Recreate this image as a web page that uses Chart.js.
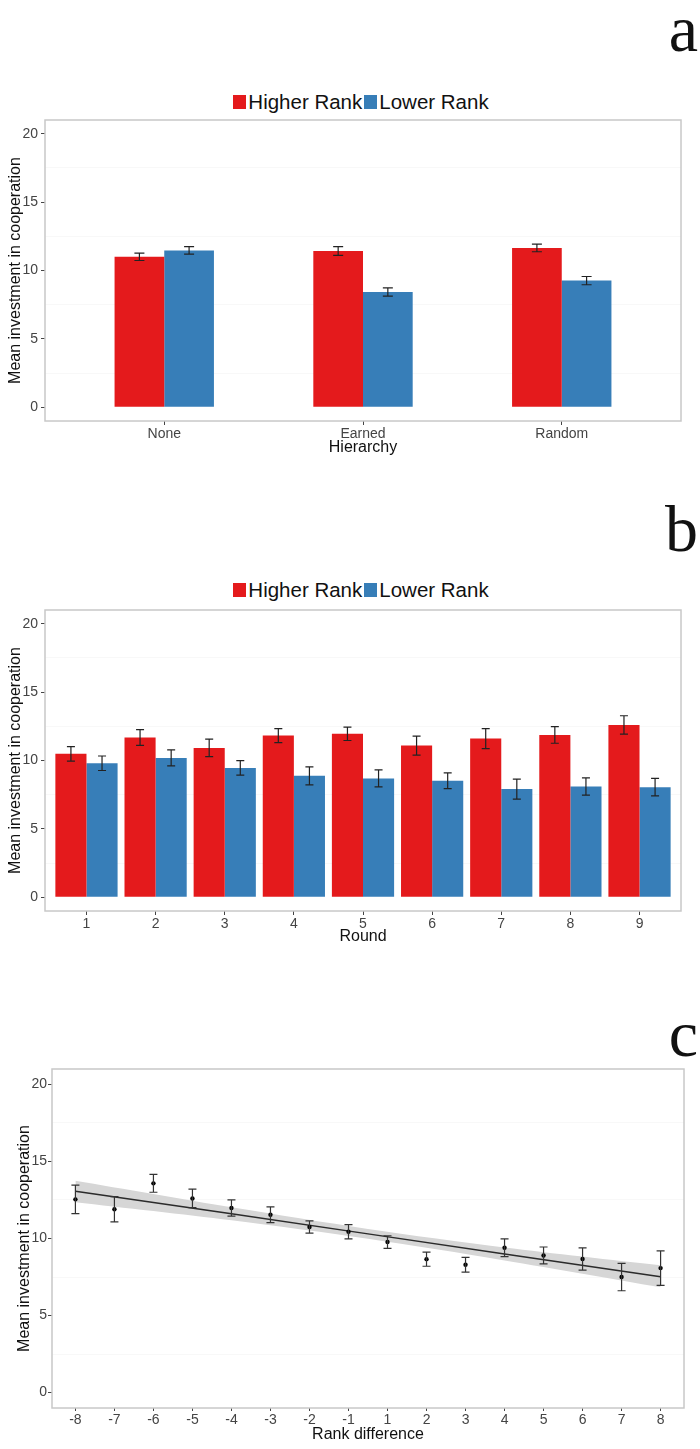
<!DOCTYPE html>
<html>
<head>
<meta charset="utf-8">
<script src="https://cdn.jsdelivr.net/npm/chart.js@4.4.1/dist/chart.umd.min.js"></script>
<style>
  body { margin: 0; background: #fff; width: 700px; height: 1449px; position: relative; overflow: hidden;
         font-family: "Liberation Sans", Arial, sans-serif; }
  .panel { position: absolute; left: 0; }
  .letter { position: absolute; right: 2px; font: 66px/66px "Liberation Serif", "Times New Roman", serif; color: #111; }
  .legend { position: absolute; left: 11px; width: 700px; text-align: center; font-size: 20.5px; line-height: 20px;
            color: #111; white-space: nowrap; }
  .legend .sw { display: inline-block; width: 13px; height: 14px; margin-right: 2px; }
  .legend .gap { display: inline-block; width: 2px; }
</style>
</head>
<body>
<div class="letter" style="top:-4px">a</div>
<div class="legend" style="top:92px"><span class="sw" style="background:#E41A1C"></span>Higher Rank<span class="gap"></span><span class="sw" style="background:#377EB8"></span>Lower Rank</div>
<canvas id="chartA" class="panel" style="top:115px" width="700" height="345"></canvas>

<div class="letter" style="top:496px">b</div>
<div class="legend" style="top:580px"><span class="sw" style="background:#E41A1C"></span>Higher Rank<span class="gap"></span><span class="sw" style="background:#377EB8"></span>Lower Rank</div>
<canvas id="chartB" class="panel" style="top:605px" width="700" height="345"></canvas>

<div class="letter" style="top:1001px">c</div>
<canvas id="chartC" class="panel" style="top:1063px" width="700" height="386"></canvas>

<script>
// panel a
const hierarchyLabels = ['None', 'Earned', 'Random'];
const hierHigher = [11.0, 11.42, 11.65];
const hierHigherErr = [0.27, 0.32, 0.28];
const hierLower = [11.47, 8.43, 9.26];
const hierLowerErr = [0.27, 0.3, 0.3];

// panel b
const roundLabels = ['1', '2', '3', '4', '5', '6', '7', '8', '9'];
const roundHigher = [10.49, 11.68, 10.92, 11.82, 11.95, 11.09, 11.6, 11.87, 12.6];
const roundHigherErr = [0.53, 0.57, 0.64, 0.51, 0.49, 0.69, 0.73, 0.61, 0.67];
const roundLower = [9.8, 10.19, 9.46, 8.88, 8.69, 8.52, 7.91, 8.1, 8.05];
const roundLowerErr = [0.53, 0.58, 0.53, 0.66, 0.62, 0.57, 0.73, 0.63, 0.64];

// panel c
const rankLabels = ['-8', '-7', '-6', '-5', '-4', '-3', '-2', '-1', '1', '2', '3', '4', '5', '6', '7', '8'];
const rankMean = [12.54, 11.9, 13.58, 12.6, 11.98, 11.54, 10.75, 10.44, 9.77, 8.66, 8.3, 9.4, 8.9, 8.67, 7.5, 8.08];
const rankErr = [0.92, 0.82, 0.58, 0.6, 0.53, 0.51, 0.4, 0.46, 0.41, 0.46, 0.48, 0.58, 0.55, 0.72, 0.89, 1.12];
const fitPos = [0, 4, 7.5, 11, 15];
const fitLine = [13.07, 11.6, 10.3, 9.0, 7.52];
const fitUpper = [13.74, 12.02, 10.62, 9.42, 8.26];
const fitLower = [12.35, 11.18, 9.98, 8.58, 6.84];

const yTicks = [0, 5, 10, 15, 20];
const yGrid = [0, 2.5, 5, 7.5, 10, 12.5, 15, 17.5, 20];
const yTitle = 'Mean investment in cooperation';

const red = '#E41A1C';
const blue = '#377EB8';
const tickCol = '#444';

const panelFrame = {
    id: 'panelFrame',
    afterDatasetsDraw: chart => {
        const a = chart.chartArea;
        const ctx = chart.ctx;
        ctx.save();
        ctx.strokeStyle = '#c8c8c8';
        ctx.lineWidth = 1.5;
        ctx.strokeRect(a.left, a.top, a.right - a.left, a.bottom - a.top);
        ctx.restore();
    }
};

const errorBars = {
    id: 'errorBars',
    afterDatasetsDraw: (chart, args, opts) => {
        const ctx = chart.ctx;
        const y = chart.scales.y;
        ctx.save();
        ctx.strokeStyle = opts.color;
        ctx.lineWidth = opts.width;
        chart.data.datasets.forEach((ds, i) => {
            if (!ds.errors) return;
            chart.getDatasetMeta(i).data.forEach((el, j) => {
                const v = ds.data[j].y;
                const top = y.getPixelForValue(v + ds.errors[j]);
                const bot = y.getPixelForValue(v - ds.errors[j]);
                const h = opts.cap / 2;
                ctx.beginPath();
                ctx.moveTo(el.x, top); ctx.lineTo(el.x, bot);
                ctx.moveTo(el.x - h, top); ctx.lineTo(el.x + h, top);
                ctx.moveTo(el.x - h, bot); ctx.lineTo(el.x + h, bot);
                ctx.stroke();
            });
        });
        ctx.restore();
    }
};

function yScale(width, titlePad, labelPad) {
    return {
        min: -1,
        max: 21,
        afterBuildTicks: s => { s.ticks = yGrid.map(v => ({ value: v })); },
        afterFit: s => { s.width = width; s.paddingTop = 0; s.paddingBottom = 0; },
        ticks: {
            autoSkip: false,
            padding: labelPad,
            color: tickCol,
            font: { size: 14 },
            callback: v => yTicks.includes(v) ? v : ''
        },
        grid: {
            color: c => c.tick && !yTicks.includes(c.tick.value) ? '#f8f8f8' : 'rgba(0,0,0,0)',
            tickColor: c => c.tick && yTicks.includes(c.tick.value) ? tickCol : 'rgba(0,0,0,0)',
            tickLength: 4
        },
        border: { display: false },
        title: { display: true, text: yTitle, color: '#111', font: { size: 16 }, padding: { top: titlePad, bottom: 0 } }
    };
}

function xScale(labels, height, title, tickLen, titlePad) {
    return {
        type: 'linear',
        min: -0.6,
        max: labels.length - 0.4,
        offset: false,
        afterBuildTicks: s => { s.ticks = labels.map((l, i) => ({ value: i })); },
        afterFit: s => { s.height = height; s.paddingLeft = 0; s.paddingRight = 0; },
        ticks: { autoSkip: false, maxRotation: 0, padding: 1, color: tickCol, font: { size: 14 }, callback: v => labels[v] },
        grid: { drawOnChartArea: false, offset: false, tickLength: tickLen, tickColor: tickCol },
        border: { display: false },
        title: { display: true, text: title, color: '#111', font: { size: 16 }, padding: { top: 0, bottom: titlePad } }
    };
}

function barChart(id, labels, higher, higherErr, lower, lowerErr, catPct, cap, title, titlePad) {
    const toPts = arr => arr.map((v, i) => ({ x: i, y: v }));
    return new Chart(document.getElementById(id), {
        type: 'bar',
        data: {
            datasets: [
                { label: 'Higher Rank', data: toPts(higher), errors: higherErr, backgroundColor: red },
                { label: 'Lower Rank', data: toPts(lower), errors: lowerErr, backgroundColor: blue }
            ]
        },
        options: {
            responsive: false,
            animation: false,
            devicePixelRatio: 1,
            categoryPercentage: catPct,
            barPercentage: 1,
            layout: { padding: { top: 5, right: 19, left: 0, bottom: 0 } },
            scales: {
                x: xScale(labels, 39, title, 4, titlePad),
                y: yScale(45, 6, 3)
            },
            plugins: {
                legend: { display: false },
                tooltip: { enabled: false },
                errorBars: { color: '#222', width: 1.2, cap: cap }
            }
        },
        plugins: [errorBars, panelFrame]
    });
}

barChart('chartA', hierarchyLabels, hierHigher, hierHigherErr, hierLower, hierLowerErr, 0.5, 10, 'Hierarchy', 3);
barChart('chartB', roundLabels, roundHigher, roundHigherErr, roundLower, roundLowerErr, 0.9, 8, 'Round', 4);

const fitPts = arr => arr.map((v, i) => ({ x: fitPos[i], y: v }));

new Chart(document.getElementById('chartC'), {
    type: 'line',
    data: {
        datasets: [
            { data: rankMean.map((v, i) => ({ x: i, y: v })), errors: rankErr, showLine: false,
              pointRadius: 2.2, pointBackgroundColor: '#000', pointBorderWidth: 0, order: 0 },
            { data: fitPts(fitLine), borderColor: '#2b2b2b', borderWidth: 1.5, pointRadius: 0, order: 1 },
            { data: fitPts(fitUpper), borderWidth: 0, pointRadius: 0, fill: '+1', backgroundColor: '#d6d6d6',
              tension: 0.3, order: 2 },
            { data: fitPts(fitLower), borderWidth: 0, pointRadius: 0, fill: false, tension: 0.3, order: 3 }
        ]
    },
    options: {
        responsive: false,
        animation: false,
        devicePixelRatio: 1,
        layout: { padding: { top: 6, right: 16, left: 0, bottom: 0 } },
        scales: {
            x: xScale(rankLabels, 41, 'Rank difference', 3, 5),
            y: yScale(52, 15, 1)
        },
        plugins: {
            legend: { display: false },
            tooltip: { enabled: false },
            errorBars: { color: '#333', width: 1.2, cap: 8 }
        }
    },
    plugins: [errorBars, panelFrame]
});
</script>
</body>
</html>
